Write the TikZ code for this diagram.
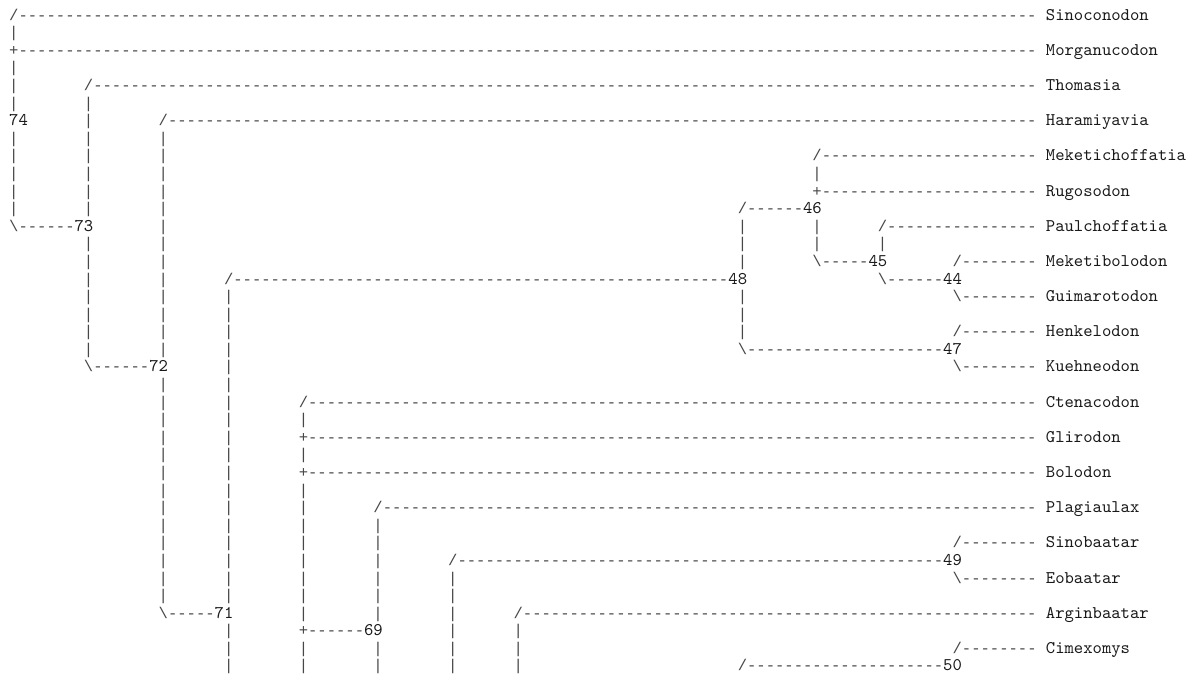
\documentclass[tikz,border=0pt]{standalone}
\usepackage{fontspec}
\setmonofont{Liberation Mono}
\newfontfamily\namefont{lmmono10-regular.otf}
\ExplSyntaxOn
\cs_new:Npn \reps #1#2 { \prg_replicate:nn {#1} {#2} }
\ExplSyntaxOff
\newcommand\tx[3]{\node[txt] (n-#1-#2) at ({9.23pt+9.34pt*#2},{-20.15pt-17.59pt*#1}) {#3};}
\newcommand\nm[3]{\node[nmtxt] (n-#1-#2) at ({9.23pt+9.34pt*#2},{-20.15pt-17.59pt*#1}) {#3};}
\newcommand\barsat[2]{\foreach \c in {#2} {\tx{#1}{\c}{|}}}
\begin{document}
\begin{tikzpicture}[x=1pt,y=1pt,
  txt/.style={anchor=base west,inner sep=0pt,outer sep=0pt,text=black!72,
    font=\ttfamily\fontsize{15.564}{17.59}\selectfont},
  nmtxt/.style={anchor=base west,inner sep=0pt,outer sep=0pt,text=black!90,
    font=\namefont\fontsize{17.79}{17.59}\selectfont}]
\useasboundingbox[fill=white] (0,0) rectangle (1192,-675);
\tx{0}{0}{/\reps{109}{-}} \nm{0}{111}{Sinoconodon}
\barsat{1}{0}
\tx{2}{0}{+\reps{109}{-}} \nm{2}{111}{Morganucodon}
\barsat{3}{0}
\barsat{4}{0} \tx{4}{8}{/\reps{101}{-}} \nm{4}{111}{Thomasia}
\barsat{5}{0,8}
\nm{6}{0}{74} \barsat{6}{8} \tx{6}{16}{/\reps{93}{-}} \nm{6}{111}{Haramiyavia}
\barsat{7}{0,8,16}
\barsat{8}{0,8,16} \tx{8}{86}{/\reps{23}{-}} \nm{8}{111}{Meketichoffatia}
\barsat{9}{0,8,16,86}
\barsat{10}{0,8,16} \tx{10}{86}{+\reps{23}{-}} \nm{10}{111}{Rugosodon}
\barsat{11}{0,8,16} \tx{11}{78}{/\reps{6}{-}} \nm{11}{85}{46}
\tx{12}{0}{\textbackslash\reps{6}{-}} \nm{12}{7}{73} \barsat{12}{16,78,86} \tx{12}{93}{/\reps{16}{-}} \nm{12}{111}{Paulchoffatia}
\barsat{13}{8,16,78,86,93}
\barsat{14}{8,16,78} \tx{14}{86}{\textbackslash\reps{5}{-}} \nm{14}{92}{45} \tx{14}{101}{/\reps{8}{-}} \nm{14}{111}{Meketibolodon}
\barsat{15}{8,16} \tx{15}{23}{/\reps{53}{-}} \nm{15}{77}{48} \tx{15}{93}{\textbackslash\reps{6}{-}} \nm{15}{100}{44}
\barsat{16}{8,16,23,78} \tx{16}{101}{\textbackslash\reps{8}{-}} \nm{16}{111}{Guimarotodon}
\barsat{17}{8,16,23,78}
\barsat{18}{8,16,23,78} \tx{18}{101}{/\reps{8}{-}} \nm{18}{111}{Henkelodon}
\barsat{19}{8,16,23} \tx{19}{78}{\textbackslash\reps{21}{-}} \nm{19}{100}{47}
\tx{20}{8}{\textbackslash\reps{6}{-}} \nm{20}{15}{72} \barsat{20}{23} \tx{20}{101}{\textbackslash\reps{8}{-}} \nm{20}{111}{Kuehneodon}
\barsat{21}{16,23}
\barsat{22}{16,23} \tx{22}{31}{/\reps{78}{-}} \nm{22}{111}{Ctenacodon}
\barsat{23}{16,23,31}
\barsat{24}{16,23} \tx{24}{31}{+\reps{78}{-}} \nm{24}{111}{Glirodon}
\barsat{25}{16,23,31}
\barsat{26}{16,23} \tx{26}{31}{+\reps{78}{-}} \nm{26}{111}{Bolodon}
\barsat{27}{16,23,31}
\barsat{28}{16,23,31} \tx{28}{39}{/\reps{70}{-}} \nm{28}{111}{Plagiaulax}
\barsat{29}{16,23,31,39}
\barsat{30}{16,23,31,39} \tx{30}{101}{/\reps{8}{-}} \nm{30}{111}{Sinobaatar}
\barsat{31}{16,23,31,39} \tx{31}{47}{/\reps{52}{-}} \nm{31}{100}{49}
\barsat{32}{16,23,31,39,47} \tx{32}{101}{\textbackslash\reps{8}{-}} \nm{32}{111}{Eobaatar}
\barsat{33}{16,23,31,39,47}
\tx{34}{16}{\textbackslash\reps{5}{-}} \nm{34}{22}{71} \barsat{34}{31,39,47} \tx{34}{54}{/\reps{55}{-}} \nm{34}{111}{Arginbaatar}
\barsat{35}{23,47,54} \tx{35}{31}{+\reps{6}{-}} \nm{35}{38}{69}
\barsat{36}{23,31,39,47,54} \tx{36}{101}{/\reps{8}{-}} \nm{36}{111}{Cimexomys}
\barsat{37}{23,31,39,47,54} \tx{37}{78}{/\reps{21}{-}} \nm{37}{100}{50}
\end{tikzpicture}
\end{document}
